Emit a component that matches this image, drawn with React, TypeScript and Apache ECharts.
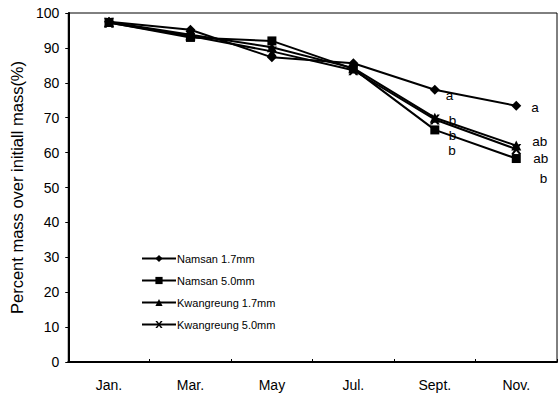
import React, { useEffect, useRef } from "react";
import * as echarts from "echarts";

const months = ["Jan.", "Mar.", "May", "Jul.", "Sept.", "Nov."];
const namsan17 = [97.5, 95.2, 87.3, 85.6, 78.0, 73.4];
const namsan50 = [97.3, 93.0, 92.0, 84.0, 66.5, 58.3];
const kwang17 = [97.4, 93.8, 90.2, 84.2, 70.0, 62.0];
const kwang50 = [97.2, 93.4, 89.0, 83.6, 69.5, 61.0];
const yTicks = [0, 10, 20, 30, 40, 50, 60, 70, 80, 90, 100];

// significance letters per series (Sept, Nov)
const letters17N = ["", "", "", "", "a", "a"];
const letters50N = ["", "", "", "", "b", "b"];
const letters17K = ["", "", "", "", "b", "ab"];
const letters50K = ["", "", "", "", "b", "ab"];

const xMark =
  "path://M0,0 L2.5,0 L5,3.2 L7.5,0 L10,0 L6.3,5 L10,10 L7.5,10 L5,6.8 L2.5,10 L0,10 L3.7,5 Z";

const font = "Liberation Sans, Arial, sans-serif";

function withLabels(values: number[], letters: string[], offsets: number[][]) {
  return values.map((v, i) =>
    letters[i]
      ? {
          value: v,
          label: {
            show: true,
            position: "right",
            offset: offsets[i],
            formatter: letters[i],
            color: "#000",
            textBorderWidth: 0,
            fontSize: 13.5,
            lineHeight: 13,
            fontFamily: font,
          },
        }
      : v
  );
}

export default function App() {
  const ref = useRef<HTMLDivElement>(null);
  useEffect(() => {
    if (!ref.current) return;
    const chart = echarts.init(ref.current, undefined, { renderer: "svg" });
    const lineStyle = { color: "#000", width: 2 };
    const itemStyle = { color: "#000" };
    chart.setOption({
      animation: false,
      backgroundColor: "#fff",
      grid: {
        left: 55,
        right: 3,
        top: 13,
        bottom: 32,
        show: true,
        borderColor: "#000",
        borderWidth: 1,
      },
      legend: {
        orient: "vertical",
        left: 136,
        top: 248,
        itemWidth: 34,
        itemHeight: 9,
        itemGap: 11,
        textStyle: { fontSize: 11, fontFamily: font, color: "#000", padding: [0, 0, 0, -4] },
        data: ["Namsan 1.7mm", "Namsan 5.0mm", "Kwangreung 1.7mm", "Kwangreung 5.0mm"],
      },
      xAxis: {
        type: "category",
        data: months,
        boundaryGap: true,
        axisLine: { lineStyle: { color: "#000", width: 2 } },
        axisTick: { show: true, inside: true, length: 3, lineStyle: { color: "#000" } },
        axisLabel: { color: "#000", fontSize: 14, fontFamily: font, margin: 16 },
        splitLine: { show: false },
      },
      yAxis: {
        type: "value",
        min: 0,
        max: 100,
        interval: 10,
        axisLine: { show: true, lineStyle: { color: "#000", width: 2 } },
        axisTick: { show: true, length: 3, lineStyle: { color: "#000" } },
        axisLabel: {
          color: "#000",
          fontSize: 14,
          fontFamily: font,
          margin: 9,
          formatter: (v: number) => (yTicks.includes(v) ? String(v) : ""),
        },
        splitLine: { show: false },
        name: "Percent mass over initiall mass(%)",
        nameLocation: "middle",
        nameGap: 28,
        nameTextStyle: { color: "#000", fontSize: 16.5, fontFamily: font },
      },
      series: [
        {
          name: "Namsan 1.7mm",
          type: "line",
          symbol: "diamond",
          symbolSize: 10,
          lineStyle,
          itemStyle,
          data: withLabels(namsan17, letters17N, [[], [], [], [], [1, 6], [5, 2]]),
        },
        {
          name: "Namsan 5.0mm",
          type: "line",
          symbol: "rect",
          symbolSize: 9,
          lineStyle,
          itemStyle,
          data: withLabels(namsan50, letters50N, [[], [], [], [], [4, 21], [14, 20]]),
        },
        {
          name: "Kwangreung 1.7mm",
          type: "line",
          symbol: "triangle",
          symbolSize: 10,
          lineStyle,
          itemStyle,
          data: withLabels(kwang17, letters17K, [[], [], [], [], [4, 3], [6, -4]]),
        },
        {
          name: "Kwangreung 5.0mm",
          type: "line",
          symbol: xMark,
          symbolSize: 10,
          lineStyle,
          itemStyle,
          data: withLabels(kwang50, letters50K, [[], [], [], [], [4, 16.5], [7, 9]]),
        },
      ],
    });
    return () => chart.dispose();
  }, []);
  return (
    <div
      ref={ref}
      style={{ position: "fixed", left: 0, top: 0, width: 560, height: 394 }}
    />
  );
}
